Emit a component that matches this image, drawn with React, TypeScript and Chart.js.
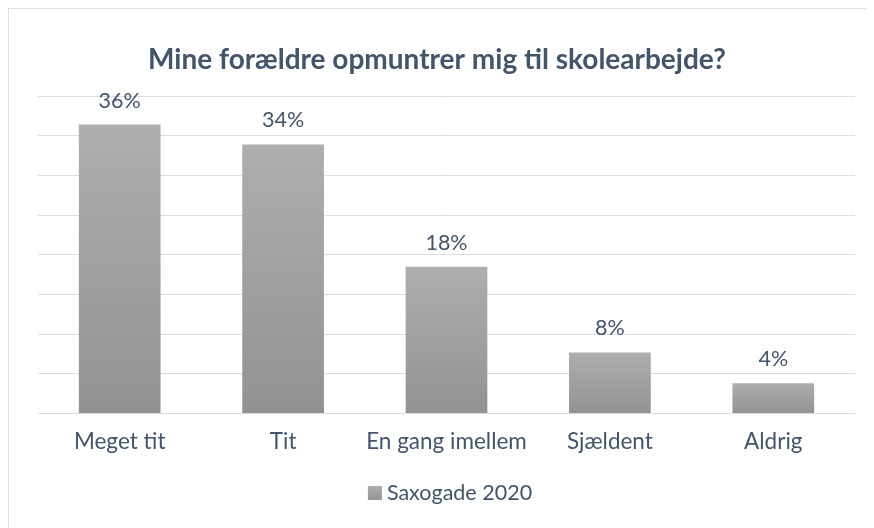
import React, { useEffect, useRef } from "react";
import { Chart, registerables } from "chart.js";

Chart.register(...registerables);

const categories = ["Meget tit", "Tit", "En gang imellem", "Sjældent", "Aldrig"];
const values = [36.4, 33.9, 18.5, 7.7, 3.8];
const dataLabels = ["36%", "34%", "18%", "8%", "4%"];
const seriesName = "Saxogade 2020";
const titleText = "Mine forældre opmuntrer mig til skolearbejde?";
const yMax = 40;
const yStep = 5;

const TEXT = "#44546A";
const GRID = "#D9DEE5";
const FONT = "Lato, 'Open Sans', sans-serif";

const labelPlugin = {
  id: "barLabels",
  afterDatasetsDraw(chart: any) {
    const ctx = chart.ctx;
    const meta = chart.getDatasetMeta(0);
    ctx.save();
    ctx.font = `21.5px ${FONT}`;
    ctx.fillStyle = TEXT;
    ctx.textAlign = "center";
    ctx.textBaseline = "alphabetic";
    meta.data.forEach((bar: any, i: number) => {
      ctx.fillText(dataLabels[i], bar.x, bar.y - 17);
    });
    ctx.restore();
  },
};

const legendPlugin = {
  id: "bottomLegend",
  afterDraw(chart: any) {
    const ctx = chart.ctx;
    const area = chart.chartArea;
    ctx.save();
    ctx.font = `21.5px ${FONT}`;
    const tw = ctx.measureText(seriesName).width;
    const box = 14;
    const gap = 5;
    const total = box + gap + tw;
    const cx = (area.left + area.right) / 2 + 3.5;
    const cy = chart.height - 35;
    const x0 = cx - total / 2;
    const g = ctx.createLinearGradient(0, cy - box / 2, 0, cy + box / 2);
    g.addColorStop(0, "#ADADAD");
    g.addColorStop(1, "#949494");
    ctx.fillStyle = g;
    ctx.fillRect(x0, cy - box / 2, box, box);
    ctx.fillStyle = TEXT;
    ctx.textAlign = "left";
    ctx.textBaseline = "middle";
    ctx.fillText(seriesName, x0 + box + gap, cy);
    ctx.restore();
  },
};

export default function App() {
  const ref = useRef<HTMLCanvasElement>(null);
  useEffect(() => {
    document.documentElement.style.overflow = "hidden";
    document.body.style.overflow = "hidden";
    if (!ref.current) return;
    const chart = new Chart(ref.current, {
      type: "bar",
      data: {
        labels: categories,
        datasets: [
          {
            label: seriesName,
            data: values,
            backgroundColor: (c: any) => {
              const ch = c.chart;
              if (c.type !== "data" || !ch.chartArea || !ch.scales.y) return "#A3A3A3";
              const y = ch.scales.y;
              const top = y.getPixelForValue(c.raw);
              const base = y.getPixelForValue(0);
              if (!isFinite(top) || !isFinite(base) || top === base) return "#A3A3A3";
              const g = ch.ctx.createLinearGradient(0, top, 0, base);
              g.addColorStop(0, "#AEAEAE");
              g.addColorStop(1, "#929292");
              return g;
            },
            borderWidth: 0,
            barPercentage: 0.5,
            categoryPercentage: 1,
          },
        ],
      },
      options: {
        responsive: false,
        animation: false,
        layout: { padding: { left: 10, right: 19, top: 0, bottom: 66.5 } },
        plugins: {
          title: {
            display: true,
            text: titleText,
            color: TEXT,
            font: { family: FONT, size: 28, weight: "bold" },
            padding: { top: 34.2, bottom: 19.2 },
          },
          legend: { display: false },
          tooltip: { enabled: false },
        },
        scales: {
          x: {
            grid: { display: false },
            border: { display: false },
            ticks: {
              color: TEXT,
              font: { family: FONT, size: 22.5 },
              padding: 6.5,
              maxRotation: 0,
              autoSkip: false,
            },
          },
          y: {
            min: 0,
            max: yMax,
            grid: { color: GRID, lineWidth: 1, drawTicks: false },
            border: { display: false },
            ticks: { display: false, stepSize: yStep },
            afterFit: (s: any) => {
              s.width = 19;
            },
          },
        },
      },
      plugins: [labelPlugin, legendPlugin],
    });
    return () => chart.destroy();
  }, []);

  return (
    <div
      style={{
        width: 900,
        height: 540,
        boxSizing: "border-box",
        borderTop: "1px solid #DCE1E8",
        borderLeft: "1px solid #DCE1E8",
        background: "#fff",
      }}
    >
      <canvas ref={ref} width={865} height={519} style={{ display: "block", width: 865, height: 519 }} />
    </div>
  );
}
